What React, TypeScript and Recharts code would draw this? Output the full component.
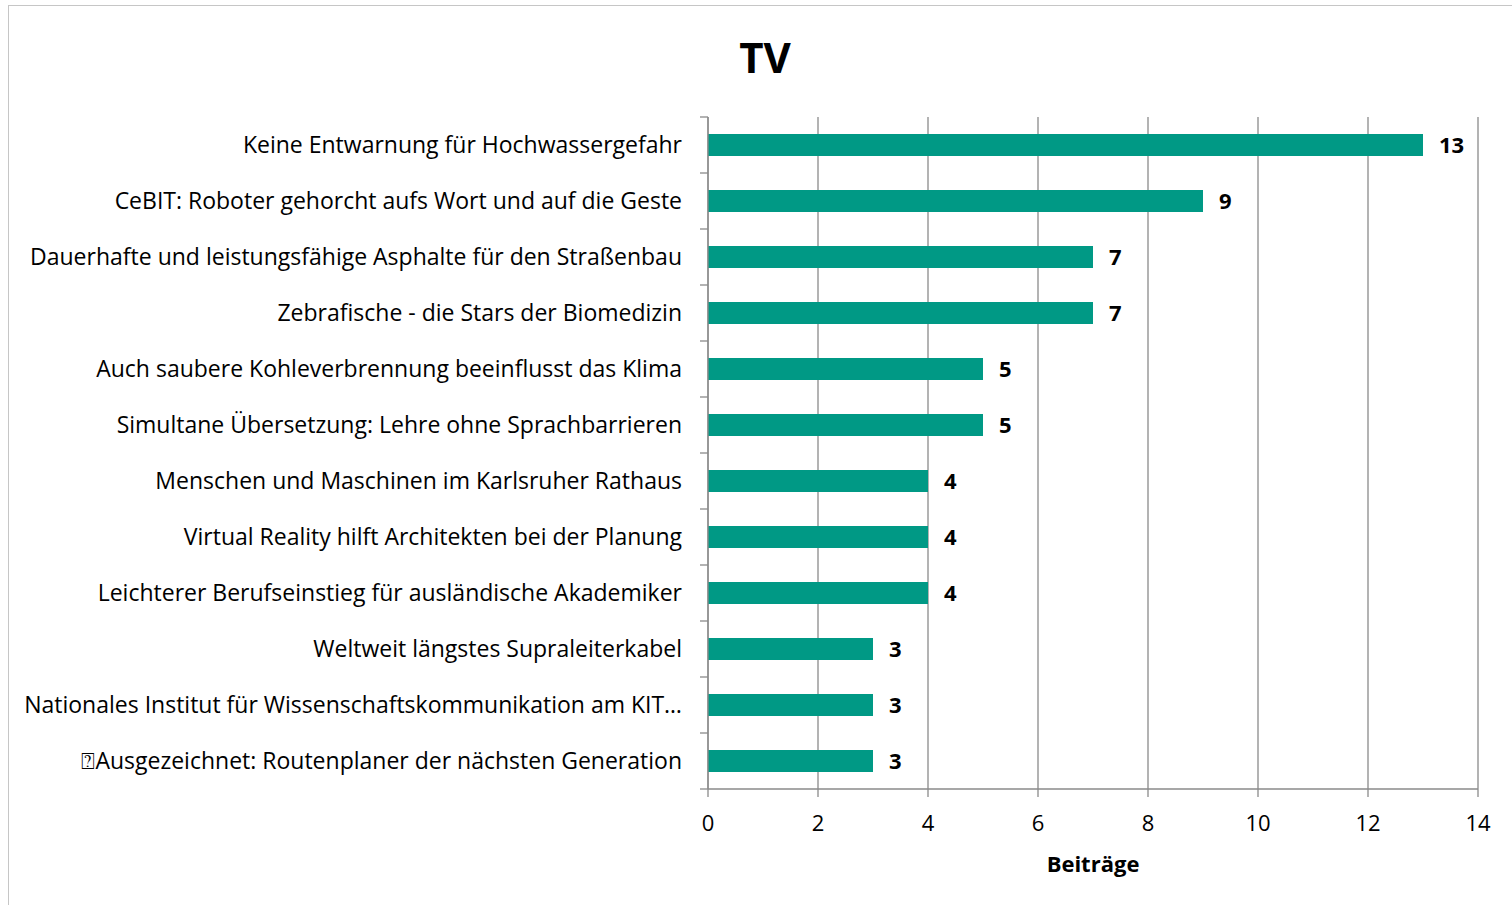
import { BarChart, Bar, XAxis, YAxis, CartesianGrid, LabelList, Label } from "recharts";

const titles = [
  "Keine Entwarnung für Hochwassergefahr",
  "CeBIT: Roboter gehorcht aufs Wort und auf die Geste",
  "Dauerhafte und leistungsfähige Asphalte für den Straßenbau",
  "Zebrafische - die Stars der Biomedizin",
  "Auch saubere Kohleverbrennung beeinflusst das Klima",
  "Simultane Übersetzung: Lehre ohne Sprachbarrieren",
  "Menschen und Maschinen im Karlsruher Rathaus",
  "Virtual Reality hilft Architekten bei der Planung",
  "Leichterer Berufseinstieg für ausländische Akademiker",
  "Weltweit längstes Supraleiterkabel",
  "Nationales Institut für Wissenschaftskommunikation am KIT…",
  "⍰Ausgezeichnet: Routenplaner der nächsten Generation",
];
const counts = [13, 9, 7, 7, 5, 5, 4, 4, 4, 3, 3, 3];
const xTicks = [0, 2, 4, 6, 8, 10, 12, 14];

const data = titles.map((title, i) => ({ title, count: counts[i] }));

const AXIS = "#8a8a8a";
const FONT = "'Open Sans', sans-serif";
const TICK_SIZE = 8;
const TICK_MARGIN = 18;

// label plus Excel-style tick marks on the band boundaries
const TitleTick = (props: any) => {
  const { x, y, payload, index, visibleTicksCount } = props;
  const half = payload.offset || 0;
  const right = x + TICK_SIZE + TICK_MARGIN;
  const isLast = index === visibleTicksCount - 1;
  return (
    <g>
      <line x1={right - TICK_SIZE} x2={right} y1={y - half} y2={y - half} stroke={AXIS} strokeWidth={1.3} />
      {isLast && (
        <line x1={right - TICK_SIZE} x2={right} y1={y + half} y2={y + half} stroke={AXIS} strokeWidth={1.3} />
      )}
      <text x={x} y={y} dy="0.355em" textAnchor="end" fill="#000" fontSize={23}>
        {payload.value}
      </text>
    </g>
  );
};

export default function App() {
  return (
    <div style={{ position: "absolute", left: 0, top: 0, width: 1512, height: 905, overflow: "hidden", fontFamily: FONT, background: "#fff" }}>
      <div
        style={{
          position: "absolute",
          left: 8,
          top: 5,
          width: 1504,
          height: 900,
          borderTop: "1px solid #c6c6c6",
          borderLeft: "1px solid #c6c6c6",
        }}
      />
      <div
        style={{
          position: "absolute",
          left: 665,
          top: 28,
          width: 200,
          textAlign: "center",
          fontSize: 42,
          fontWeight: 700,
          color: "#000",
        }}
      >
        TV
      </div>
      <div style={{ position: "absolute", left: 0, top: 0 }}>
        <BarChart
          width={1512}
          height={905}
          data={data}
          layout="vertical"
          margin={{ top: 117, right: 34, bottom: 36, left: 0 }}
        >
          <CartesianGrid horizontal={false} stroke={AXIS} strokeWidth={1.3} />
          <XAxis
            type="number"
            domain={[0, 14]}
            ticks={xTicks}
            interval={0}
            height={80}
            tickSize={TICK_SIZE}
            tickMargin={TICK_MARGIN}
            stroke={AXIS}
            strokeWidth={1.3}
            tick={{ fill: "#000", fontSize: 22 }}
          >
            <Label value="Beiträge" position="insideBottom" offset={-3} style={{ fill: "#000", fontSize: 22, fontWeight: 700 }} />
          </XAxis>
          <YAxis
            type="category"
            dataKey="title"
            width={708}
            interval={0}
            axisLine={{ stroke: AXIS, strokeWidth: 1.3 }}
            tickLine={false}
            tickSize={TICK_SIZE}
            tickMargin={TICK_MARGIN}
            tick={<TitleTick />}
          />
          <Bar dataKey="count" fill="#009985" barSize={22} isAnimationActive={false}>
            <LabelList dataKey="count" position="right" offset={16} style={{ fill: "#000", fontSize: 22, fontWeight: 700 }} />
          </Bar>
        </BarChart>
      </div>
    </div>
  );
}
